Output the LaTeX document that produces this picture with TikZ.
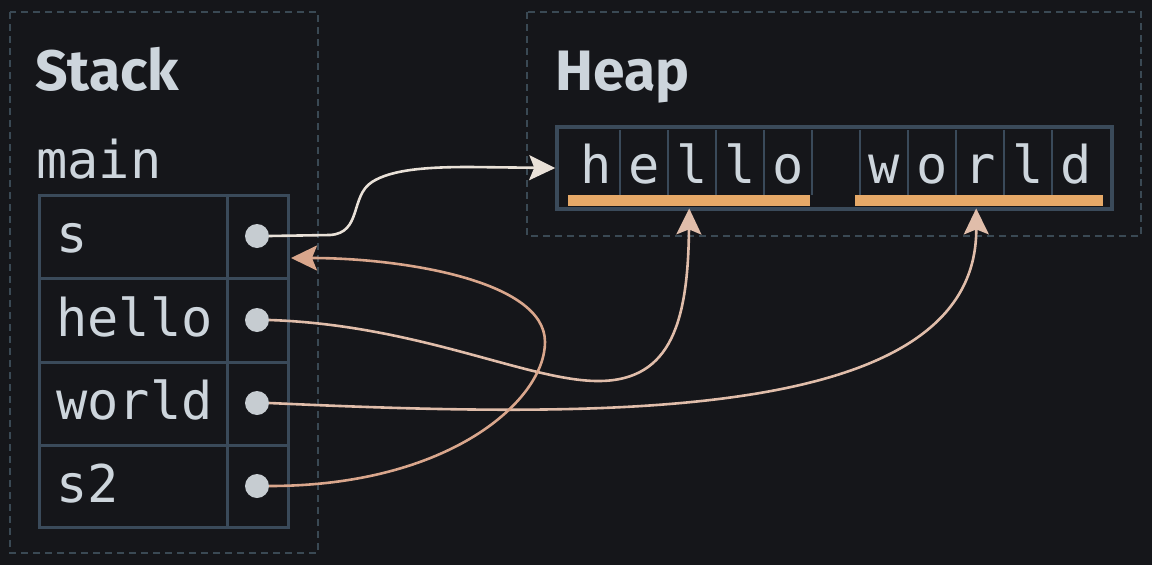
\documentclass[tikz,border=0pt]{standalone}
\usepackage{fontspec}
\setmainfont{Fira Sans}
\newfontfamily\codefont{DejaVu Sans Mono}
\usetikzlibrary{arrows.meta,calc}
\definecolor{bg}{HTML}{15161A}
\definecolor{frame}{HTML}{3A4A5A}
\definecolor{dashc}{HTML}{3A4954}
\definecolor{txt}{HTML}{CDD5DC}
\definecolor{dotc}{HTML}{C6CCD1}
\definecolor{barc}{HTML}{E6A968}
\definecolor{arrA}{HTML}{E9E1D8}
\definecolor{arrB}{HTML}{E0BDAA}
\definecolor{arrC}{HTML}{D9A68C}
\tikzset{
  region/.style={draw=dashc,line width=1.6pt,dash pattern=on 7pt off 5pt},
  gridline/.style={draw=frame,line width=3pt},
  thinline/.style={draw=frame,line width=1.6pt},
  title/.style={text=txt,font=\bfseries\fontsize{57}{60}\selectfont,anchor=base west,inner sep=0pt},
  code/.style={text=txt,font=\codefont\fontsize{52}{60}\selectfont,anchor=base west,inner sep=0pt},
  cell/.style={text=txt,font=\codefont\fontsize{52}{60}\selectfont,anchor=base,inner sep=0pt},
  ptr/.style={circle,fill=dotc,minimum size=24pt,inner sep=0pt},
  bar/.style={fill=barc,inner sep=0pt,anchor=north west},
  link/.style={line width=2.6pt,-{Stealth[length=26pt,width=25pt,inset=5pt]}},
}
\begin{document}
\begin{tikzpicture}[x=1pt,y=-1pt]
\fill[bg] (0,0) rectangle (1152,565);
\useasboundingbox (0,0) rectangle (1152,565);
% regions
\draw[region] (10,12) rectangle (318,553);
\draw[region] (527,12) rectangle (1141,236);
% titles
\node[title] (stackt) at (35,90) {Stack};
\node[title] (heapt) at (555,90) {Heap};
\node[code] (mainl) at (36,178) {main};
% stack frame table
\draw[gridline] (39,195) rectangle (288,527);
\draw[gridline] (39,278) -- (288,278);
\draw[gridline] (39,362) -- (288,362);
\draw[gridline] (39,445) -- (288,445);
\draw[gridline] (227,195) -- (227,527);
\node[code] (ls) at (56,252) {s};
\node[code] (lh) at (56,336) {hello};
\node[code] (lw) at (56,419) {world};
\node[code] (ls2) at (56,502) {s2};
\node[ptr] (sd) at (257,236) {};
\node[ptr] (hd) at (257,320) {};
\node[ptr] (wd) at (257,403) {};
\node[ptr] (s2d) at (257,486) {};
% heap string
\node[draw=frame,line width=3.5pt,minimum width=555pt,minimum height=82pt,inner sep=0pt] (heapbox) at (834.5,168) {};
\foreach \k in {0,...,9}{
  \draw[thinline] ({620+48*\k},130) -- ({620+48*\k},195);
}
\foreach \c [count=\i from 0] in {h,e,l,l,o,{},w,o,r,l,d}{
  \node[cell] (c\i) at ({596+48*\i},183) {\c};
}
\node[bar,minimum width=242pt,minimum height=11pt] (hbar) at (568,195) {};
\node[bar,minimum width=248pt,minimum height=11pt] (wbar) at (855,195) {};
\coordinate (hin) at ($(hbar.south)+(0,2)$);
\coordinate (win) at ($(wbar.south)+(-3,2)$);
\coordinate (sin) at (291,258);
% pointers
\draw[link,draw=arrA,-{Stealth[length=26pt,width=25pt,inset=5pt,fill=arrA]}] (sd.east) -- (330,235) .. controls (362,233) and (350,196) .. (372,182) .. controls (392,169) and (430,167) .. (470,167) -- (heapbox.west);
\draw[link,draw=arrB] (hd.east) .. controls (420,325) and (530,382) .. (600,381) .. controls (672,380) and (688,320) .. (hin);
\draw[link,draw=arrB] (wd.east) .. controls (600,418) and (977,425) .. (win);
\draw[link,draw=arrC] (s2d.east) .. controls (450,486) and (545,400) .. (545,342) .. controls (545,280) and (400,258) .. (sin);
\end{tikzpicture}
\end{document}
